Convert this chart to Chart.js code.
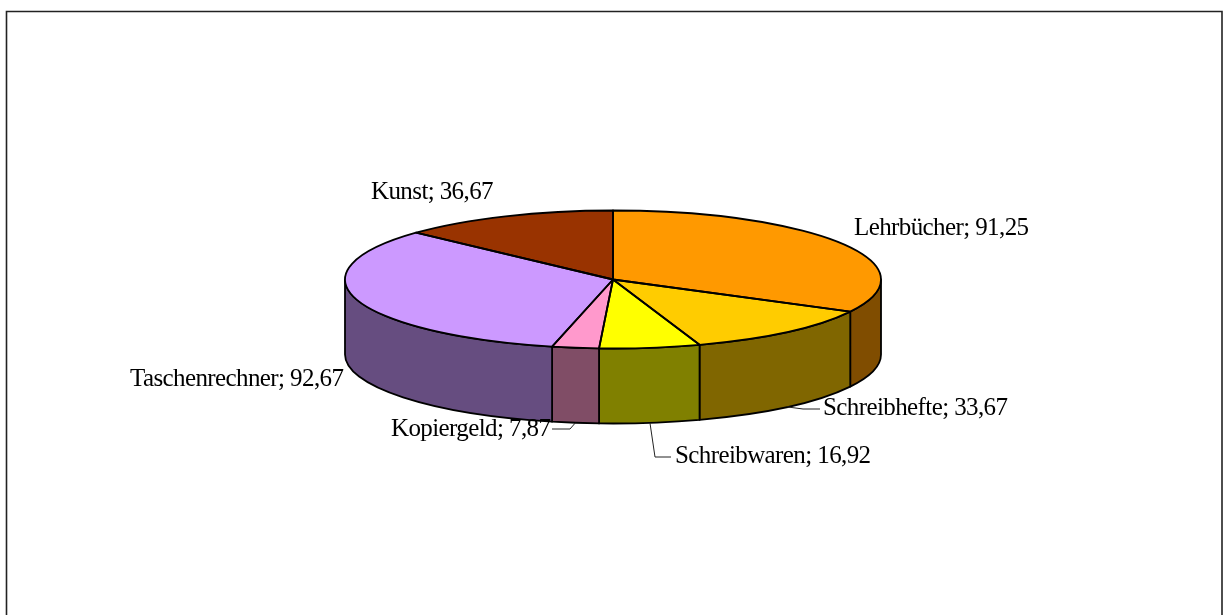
<!DOCTYPE html>
<html>
<head>
<meta charset="utf-8">
<style>html,body{margin:0;padding:0;background:#fff;overflow:hidden}canvas{display:block}</style>
<script src="https://cdn.jsdelivr.net/npm/chart.js@4"></script>
</head>
<body>
<canvas id="c" width="1223" height="615"></canvas>
<script>
const categories = ["Lehrbücher","Schreibhefte","Schreibwaren","Kopiergeld","Taschenrechner","Kunst"];
const values = [91.25,33.67,16.92,7.87,92.67,36.67];
const topColors = ["#FF9900","#FFCC00","#FFFF00","#FF99CC","#CC99FF","#993300"];
const sideColors = ["#804D00","#806600","#808000","#804D66","#664D80","#4D1A00"];

const TILT = 69/268, DEPTH = 75, PEN = 1.8;
// label anchor: left x, baseline y, optional elbow of the leader line
const labelLayout = [
  {x:854,y:235},
  {x:823,y:415,elbow:[803,409],end:[820,409]},
  {x:675,y:463,elbow:[655,457],end:[671,457]},
  {x:391,y:436,elbow:[570,429],end:[552,429]},
  {x:130,y:386},
  {x:371,y:199}
];
const fmt = v => v.toFixed(2).replace('.',',');

const pie3d = {
  id:'pie3d',
  beforeDraw(chart){
    const c = chart.ctx;
    c.save();
    c.strokeStyle='#222'; c.lineWidth=1.6;
    c.beginPath(); c.moveTo(6.5,640); c.lineTo(6.5,11.5); c.lineTo(1222,11.5); c.lineTo(1222,640); c.stroke();
    c.restore();
  },
  beforeDatasetsDraw(chart){
    const c = chart.ctx, arcs = chart.getDatasetMeta(0).data;
    c.save();
    c.lineJoin='round'; c.strokeStyle='#000'; c.lineWidth=PEN;
    arcs.forEach((a,i)=>{
      const s=Math.max(a.startAngle,0), e=Math.min(a.endAngle,Math.PI);
      if(s>=e) return;
      const rx=a.outerRadius, ry=rx*TILT;
      c.beginPath();
      c.ellipse(a.x,a.y,rx,ry,0,s,e,false);
      c.ellipse(a.x,a.y+DEPTH,rx,ry,0,e,s,true);
      c.closePath();
      c.fillStyle=sideColors[i];
      c.fill(); c.stroke();
    });
    c.restore();
    const a0=arcs[0];
    c.save();
    c.translate(a0.x,a0.y); c.scale(1,TILT); c.translate(-a0.x,-a0.y);
  },
  afterDatasetsDraw(chart){
    const c = chart.ctx, arcs = chart.getDatasetMeta(0).data;
    c.restore();
    c.save();
    c.lineJoin='round'; c.strokeStyle='#000'; c.lineWidth=PEN;
    arcs.forEach(a=>{
      const rx=a.outerRadius, ry=rx*TILT;
      c.beginPath();
      c.moveTo(a.x,a.y);
      c.ellipse(a.x,a.y,rx,ry,0,a.startAngle,a.endAngle,false);
      c.closePath();
      c.stroke();
    });
    // leader lines and labels
    arcs.forEach((a,i)=>{
      const l=labelLayout[i];
      if(l.elbow){
        const m=(a.startAngle+a.endAngle)/2, rx=a.outerRadius, ry=rx*TILT;
        c.beginPath();
        c.moveTo(a.x+rx*Math.cos(m),a.y+ry*Math.sin(m)+DEPTH);
        c.lineTo(l.elbow[0],l.elbow[1]);
        c.lineTo(l.end[0],l.end[1]);
        c.lineWidth=1; c.strokeStyle='#222'; c.stroke();
      }
      c.font='25px "Liberation Serif"';
      c.letterSpacing='-0.6px';
      c.fillStyle='#000';
      c.textAlign='left'; c.textBaseline='alphabetic';
      c.fillText(categories[i]+'; '+fmt(values[i]),l.x,l.y);
    });
    c.restore();
  }
};

new Chart(document.getElementById('c'),{
  type:'pie',
  data:{labels:categories,datasets:[{data:values,backgroundColor:topColors,borderWidth:0,radius:268}]},
  options:{
    responsive:false,animation:false,
    layout:{padding:{left:3,right:0,top:0,bottom:56}},
    plugins:{legend:{display:false},tooltip:{enabled:false}}
  },
  plugins:[pie3d]
});
</script>
</body>
</html>
